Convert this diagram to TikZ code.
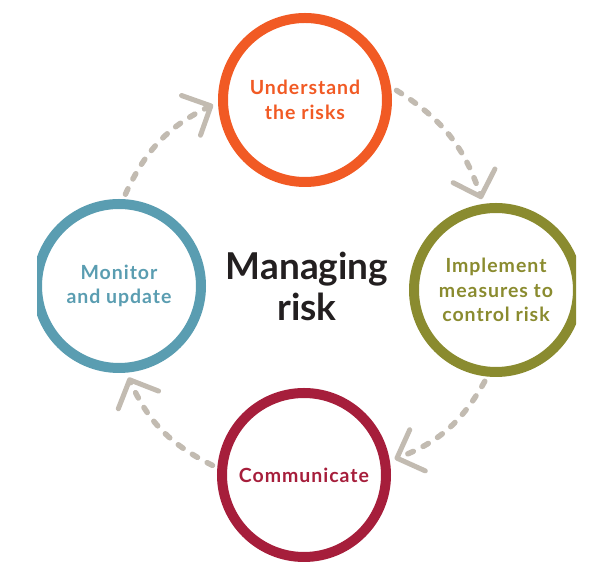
\documentclass[tikz,border=0pt]{standalone}
\usepackage{fontspec}
\setmainfont{Lato}
\usetikzlibrary{arrows.meta}
\definecolor{corange}{HTML}{F15A24}
\definecolor{colive}{HTML}{8A8B2F}
\definecolor{ccrimson}{HTML}{A61E3B}
\definecolor{cteal}{HTML}{5A9DB1}
\definecolor{cgray}{HTML}{C2BBB1}
\definecolor{cdark}{HTML}{231F20}
\newcommand{\labelfont}{\fontsize{19.5}{24.5}\selectfont\bfseries\addfontfeature{LetterSpace=5}}
\newcommand{\titlefont}{\fontsize{37}{41}\selectfont\bfseries}
\begin{document}
\begin{tikzpicture}[x=1pt,y=1pt,
  ring/.style={circle, draw, line width=10pt, minimum size=164pt, inner sep=0pt, outer sep=10pt, align=center, font=\labelfont},
  flow/.style={draw=cgray, line width=5.5pt, line cap=round, dash pattern=on 6pt off 11pt,
    -{Straight Barb[length=22pt,width=44pt,line width=5pt,round]}}]
\useasboundingbox (0,0) rectangle (614,586);
\begin{scope}
\clip (37,0) rectangle (576,586);
\node[ring, draw=corange, text=corange] (und) at (305,486) {Understand\\the risks};
\node[ring, draw=colive, text=colive] (imp) at (496,296) {Implement\\measures to\\control risk};
\node[ring, draw=ccrimson, text=ccrimson] (com) at (304,111) {Communicate};
\node[ring, draw=cteal, text=cteal] (mon) at (119,300) {Monitor\\and update};
\end{scope}
\node[align=center, font=\titlefont, text=cdark] (title) at (307,300) {Managing\\risk};
\draw[flow] (und.6) to[bend left=20] (imp.99);
\draw[flow] (imp.-97) to[bend left=20] (com.10);
\draw[flow] (com.174) to[bend left=20] (mon.-84);
\draw[flow] (mon.86) to[bend left=20] (und.183);
\end{tikzpicture}
\end{document}
